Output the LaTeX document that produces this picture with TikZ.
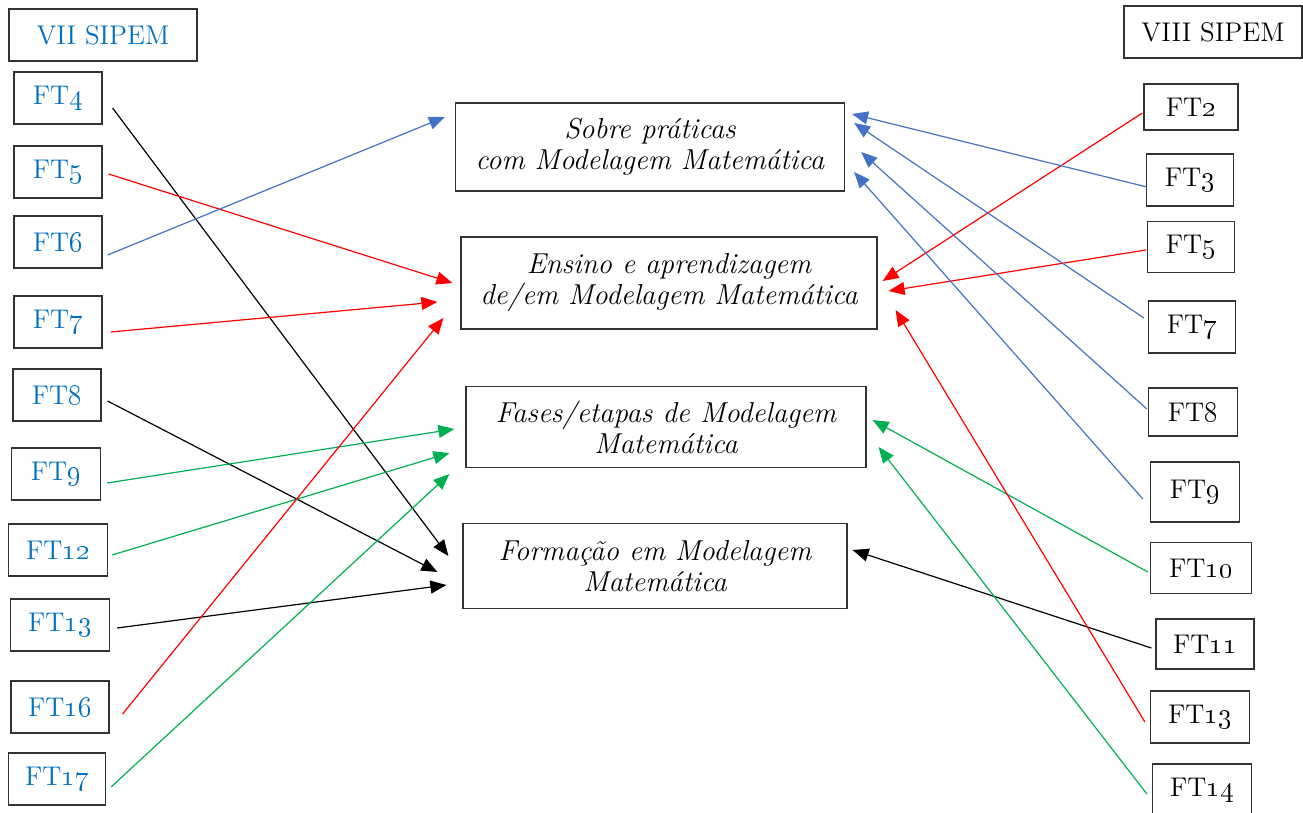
\documentclass[tikz,border=0pt]{standalone}
\usepackage{xcolor}
\usepackage{tikz}
\usetikzlibrary{arrows.meta}

\definecolor{sipemblue}{RGB}{0,112,192}
\definecolor{lineblue}{RGB}{68,114,196}
\definecolor{linegreen}{RGB}{0,176,80}
\definecolor{linered}{RGB}{255,0,0}

\tikzset{
  box/.style={draw=black!80, line width=0.6pt, inner sep=0pt, minimum height=26pt,
    font=\fontsize{13.5}{15}\selectfont},
  lbox/.style={box, text=sipemblue},
  tema/.style={draw=black!80, line width=0.6pt, inner sep=0pt, align=center,
    font=\fontsize{14.4}{15.5}\selectfont\itshape},
  seta/.style={-{Triangle[length=8pt,width=6.5pt]}, line width=0.6pt},
}

\begin{document}
\begin{tikzpicture}[x=0.5pt,y=-0.5pt]
\useasboundingbox (0,0) rectangle (1303,813);

%% VII SIPEM (esquerda) %%%%%%%%%%%%%%%%%%%%%%%%%%%%
\node[lbox, minimum width=94pt] (vii) at (103,35) {VII SIPEM};
% n / x / y / largura
\foreach \n/\x/\y/\w in {4/58/98/88, 5/58/172/88, 6/58/242/88, 7/58/322/88,
                         8/57/395/88, 9/56/474/89, 12/58/550/99, 13/60/625/99,
                         16/60/707/98, 17/57/779/97}{
\node[lbox, minimum width=\w*0.5pt] (l\n) at (\x,\y) {FT\oldstylenums{\n}};
}

%% VIII SIPEM (direita) %%%%%%%%%%%%%%%%%%%%%%%%%%%%
\node[box, minimum width=89pt] (viii) at (1213,32) {VIII SIPEM};
% n / x / y / largura / altura
\foreach \n/\x/\y/\w/\h in {2/1191/107/94/46, 3/1190/180/87/52, 5/1191/247/87/51,
                            7/1192/327/87/52, 8/1193/412/89/48, 9/1195/492/89/60,
                            10/1201/568/101/51, 11/1205/644/98/50, 13/1200/717/99/52,
                            14/1202/790/99/52}{
\node[box, minimum width=\w*0.5pt, minimum height=\h*0.5pt] (r\n) at (\x,\y) {FT\oldstylenums{\n}};
}

%% temas %%%%%%%%%%%%%%%%%%%%%%%%%%%%%%%%%%%%%%%%%%%
\node[tema, minimum width=194.5pt, minimum height=44pt] (sobre) at (650,147)
  {Sobre práticas\\com Modelagem Matemática};
\node[tema, minimum width=208pt, minimum height=46pt] (ensino) at (669,283)
  {Ensino e aprendizagem\\de/em Modelagem Matemática};
\node[tema, minimum width=200pt, minimum height=40.5pt] (fases) at (666,427)
  {Fases/etapas de Modelagem\\Matemática};
\node[tema, minimum width=192pt, minimum height=42.5pt] (form) at (655,566)
  {Formação em Modelagem\\Matemática};

%% setas da esquerda %%%%%%%%%%%%%%%%%%%%%%%%%%%%%%%
\draw[seta] ([shift={(10,10)}]l4.east) -- ([shift={(-14,-10)}]form.west);
\draw[seta, linered] ([shift={(6,2)}]l5.east) -- ([shift={(-8,0)}]ensino.west);
\draw[seta, lineblue] ([shift={(5,13)}]l6.east) -- ([shift={(-10,-30)}]sobre.west);
\draw[seta, linered] ([shift={(8,10)}]l7.east) -- ([shift={(-23,19)}]ensino.west);
\draw[seta] ([shift={(6,6)}]l8.east) -- ([shift={(-25,6)}]form.west);
\draw[seta, linegreen] ([shift={(6,9)}]l9.east) -- ([shift={(-11,2)}]fases.west);
\draw[seta, linegreen] ([shift={(4,5)}]l12.east) -- ([shift={(-16,26)}]fases.west);
\draw[seta] ([shift={(7,3)}]l13.east) -- ([shift={(-16,19)}]form.west);
\draw[seta, linered] ([shift={(13,7)}]l16.east) -- ([shift={(-17,35)}]ensino.west);
\draw[seta, linegreen] ([shift={(5,8)}]l17.east) -- ([shift={(-16,47)}]fases.west);

%% setas da direita %%%%%%%%%%%%%%%%%%%%%%%%%%%%%%%%
\draw[seta, linered] ([shift={(-1,6)}]r2.west) -- ([shift={(5,-2)}]ensino.east);
\draw[seta, lineblue] ([shift={(1,7)}]r3.west) -- ([shift={(7,-33)}]sobre.east);
\draw[seta, linered] ([shift={(-1,3)}]r5.west) -- ([shift={(11,8)}]ensino.east);
\draw[seta, lineblue] ([shift={(-4,-9)}]r7.west) -- ([shift={(9,-24)}]sobre.east);
\draw[seta, lineblue] ([shift={(-1,-3)}]r8.west) -- ([shift={(16,5)}]sobre.east);
\draw[seta, lineblue] ([shift={(-7,7)}]r9.west) -- ([shift={(9,25)}]sobre.east);
\draw[seta, linegreen] ([shift={(-2,4)}]r10.west) -- ([shift={(6,-7)}]fases.east);
\draw[seta] ([shift={(-4,4)}]r11.west) -- ([shift={(5,-16)}]form.east);
\draw[seta, linered] ([shift={(-5,5)}]r13.west) -- ([shift={(18,27)}]ensino.east);
\draw[seta, linegreen] ([shift={(-5,4)}]r14.west) -- ([shift={(12,20)}]fases.east);
\end{tikzpicture}
\end{document}
